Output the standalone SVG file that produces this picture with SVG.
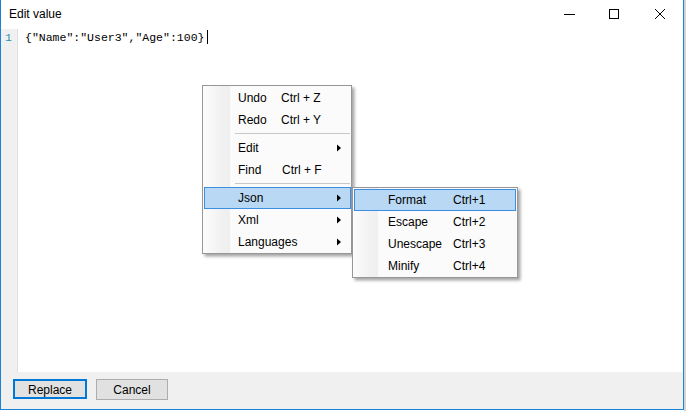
<svg xmlns="http://www.w3.org/2000/svg" width="686" height="411" viewBox="0 0 686 411">
<style>
.ui{font-family:"Liberation Sans",Arial,sans-serif;font-size:12px;fill:#000}
.mono{font-family:"Liberation Mono","DejaVu Sans Mono",monospace;font-size:11.5px}
.menu{fill:#fbfbfb;stroke:#979797;stroke-width:1}
.hl{fill:#b8d8f3;stroke:#3a8ee4;stroke-width:1}
.sep{stroke:#c8c8c8;stroke-width:1}
.ctl{stroke:#000;stroke-width:1;fill:none}
.btn{fill:#e1e1e1}
</style>
<defs>
<linearGradient id="margin" x1="0" x2="1" y1="0" y2="0">
<stop offset="0" stop-color="#fcfcfc"/>
<stop offset="0.7" stop-color="#f1f1f1"/>
<stop offset="1" stop-color="#efefef"/>
</linearGradient>
<filter id="shadow" x="-10%" y="-10%" width="130%" height="130%">
<feDropShadow dx="2.5" dy="2.5" stdDeviation="1.5" flood-color="#000" flood-opacity="0.35"/>
</filter>
</defs>

<rect x="0" y="0" width="686" height="411" fill="#ffffff"/>
<rect x="684" y="0" width="2" height="411" fill="#d4d4d4"/>

<g id="titlebar">
<text class="ui" x="9" y="18">Edit value</text>
<line class="ctl" x1="564" y1="14.5" x2="575" y2="14.5"/>
<rect class="ctl" x="609.5" y="9.5" width="9" height="9"/>
<path class="ctl" d="M655,9 L665,19 M665,9 L655,19"/>
</g>

<g id="editor">
<rect x="1" y="29" width="16" height="343" fill="#f0f0f0"/>
<line x1="17.5" y1="29" x2="17.5" y2="372" stroke="#e0e0e0"/>
<text class="mono" x="5" y="41" fill="#2b91af">1</text>
<text class="mono" x="25" y="41" fill="#000">{"Name":"User3","Age":100}</text>
<line x1="207.5" y1="30" x2="207.5" y2="44" stroke="#000"/>
</g>

<g id="bottom-panel">
<rect x="1" y="372" width="682" height="37" fill="#f0f0f0"/>
</g>

<g id="btn-replace">
<rect class="btn" x="14" y="380" width="72" height="18" stroke="#0078d7" stroke-width="2"/>
<text class="ui" x="50" y="394" text-anchor="middle">Replace</text>
</g>
<g id="btn-cancel">
<rect class="btn" x="96.5" y="379.5" width="71" height="20" stroke="#adadad" stroke-width="1"/>
<text class="ui" x="132" y="394" text-anchor="middle">Cancel</text>
</g>

<g id="window-border" stroke="#1883d7" stroke-width="1">
<line x1="0.5" y1="0" x2="0.5" y2="410"/>
<line x1="683.5" y1="0" x2="683.5" y2="410"/>
<line x1="0" y1="409.5" x2="684" y2="409.5"/>
</g>

<g id="context-menu">
<rect class="menu" x="202.5" y="85.5" width="149" height="168" filter="url(#shadow)"/>
<rect x="203" y="86" width="27" height="167" fill="url(#margin)"/>
<text class="ui" x="238" y="102">Undo</text>
<text class="ui" x="281" y="102">Ctrl + Z</text>
<text class="ui" x="238" y="124">Redo</text>
<text class="ui" x="281" y="124">Ctrl + Y</text>
<line class="sep" x1="235" y1="133.5" x2="350" y2="133.5"/>
<text class="ui" x="238" y="152">Edit</text>
<polygon points="337,144.5 341,148 337,151.5" fill="#000"/>
<text class="ui" x="238" y="174">Find</text>
<text class="ui" x="282" y="174">Ctrl + F</text>
<line class="sep" x1="235" y1="183.5" x2="350" y2="183.5"/>
<rect class="hl" x="204.5" y="187.5" width="146" height="21"/>
<text class="ui" x="238" y="202">Json</text>
<polygon points="337,194.5 341,198 337,201.5" fill="#000"/>
<text class="ui" x="238" y="224">Xml</text>
<polygon points="337,216.5 341,220 337,223.5" fill="#000"/>
<text class="ui" x="238" y="246">Languages</text>
<polygon points="337,238.5 341,242 337,245.5" fill="#000"/>
</g>

<g id="json-submenu">
<rect class="menu" x="352.5" y="187.5" width="165" height="90" filter="url(#shadow)"/>
<rect x="353" y="188" width="25" height="89" fill="url(#margin)"/>
<rect class="hl" x="354.5" y="189.5" width="161" height="21"/>
<text class="ui" x="388" y="204">Format</text>
<text class="ui" x="453" y="204">Ctrl+1</text>
<text class="ui" x="388" y="226">Escape</text>
<text class="ui" x="453" y="226">Ctrl+2</text>
<text class="ui" x="388" y="248">Unescape</text>
<text class="ui" x="453" y="248">Ctrl+3</text>
<text class="ui" x="388" y="270">Minify</text>
<text class="ui" x="453" y="270">Ctrl+4</text>
</g>
</svg>
